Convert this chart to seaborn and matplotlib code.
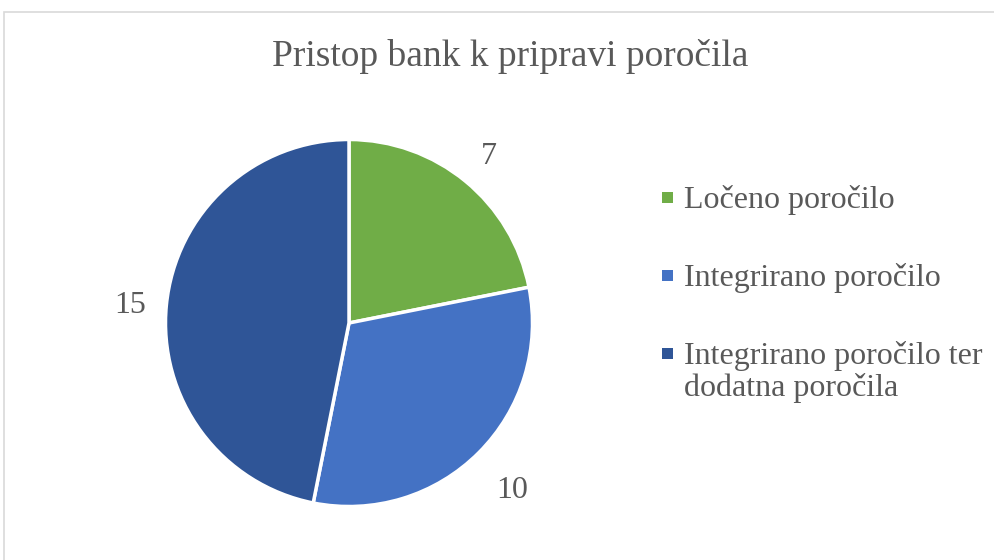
import matplotlib
matplotlib.use("Agg")
import numpy as np
import matplotlib.pyplot as plt
import seaborn as sns
from matplotlib.patches import Rectangle

categories = ["Ločeno poročilo", "Integrirano poročilo", "Integrirano poročilo ter\ndodatna poročila"]
values = [7, 10, 15]
colors = ["#70AD47", "#4472C4", "#2F5597"]
title = "Pristop bank k pripravi poročila"

sns.set_theme(style="white")
plt.rcParams["font.family"] = ["Liberation Serif", "DejaVu Serif"]
text_color = "#595959"

W, H = 995, 560
fig = plt.figure(figsize=(W / 100, H / 100), dpi=100)

# chart border
fig.patches.append(Rectangle((4 / W, -0.1), 1.2, (H - 12) / H + 0.1, transform=fig.transFigure,
                             fill=False, edgecolor="#D9D9D9", linewidth=1.2))

cx, cy, r = 349, 323, 183.5
ax = fig.add_axes([(cx - r) / W, (H - cy - r) / H, 2 * r / W, 2 * r / H])
total = sum(values)
wedges, texts, autotexts = ax.pie(
    values, colors=colors, startangle=90, counterclock=False,
    wedgeprops=dict(edgecolor="white", linewidth=2.5),
    autopct=lambda p: f"{round(p * total / 100)}", pctdistance=1.2,
    textprops=dict(color=text_color, fontsize=23),
)
label_dist = [1.2, 1.26, 1.2]
for w, t, d in zip(wedges, autotexts, label_dist):
    ang = np.deg2rad((w.theta1 + w.theta2) / 2)
    t.set_position((d * np.cos(ang), d * np.sin(ang) - 0.02))
    t.set_va("center")
ax.set_xlim(-1, 1)
ax.set_ylim(-1, 1)
ax.set_aspect("equal")
ax.axis("off")

fig.text(510 / W, 1 - 66 / H, title, ha="center", va="baseline", fontsize=27, color=text_color)

# legend (squares aligned with the first text line, as in the reference)
baselines = [208, 286, 364]
line_step = 32
for lab, c, b in zip(categories, colors, baselines):
    fig.patches.append(Rectangle((662 / W, 1 - (b - 5) / H), 11 / W, 11 / H,
                                 transform=fig.transFigure, facecolor=c, edgecolor="none"))
    for i, line in enumerate(lab.split("\n")):
        fig.text(684 / W, 1 - (b + i * line_step) / H, line, ha="left", va="baseline",
                 fontsize=23, color=text_color)

fig.savefig("out.png", dpi=100, facecolor="white")
